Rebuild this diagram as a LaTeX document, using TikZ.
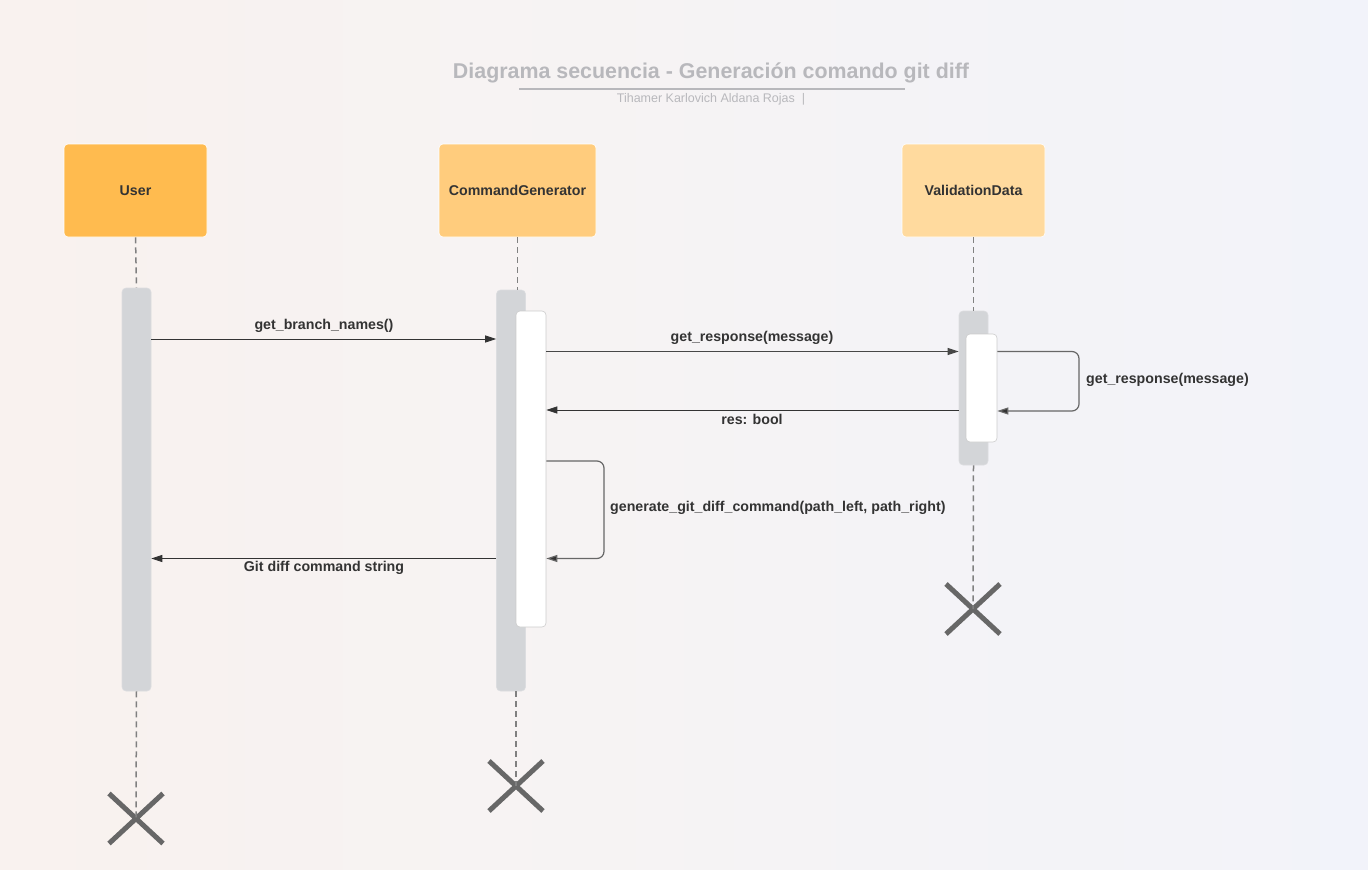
\documentclass[tikz,border=0pt]{standalone}
\usepackage{fontspec}
\setmainfont{Liberation Sans}
\usetikzlibrary{arrows.meta,shapes.misc}
\definecolor{bgl}{HTML}{F8EFEB}
\definecolor{bgr}{HTML}{EFF1F9}
\definecolor{userc}{HTML}{FFBB4F}
\definecolor{cgc}{HTML}{FFCC7D}
\definecolor{vdc}{HTML}{FFDA9E}
\definecolor{barc}{HTML}{D3D5D8}
\definecolor{txt}{HTML}{333333}
\definecolor{titc}{HTML}{B8B8BC}
\definecolor{xgray}{HTML}{676767}
\definecolor{lifec}{HTML}{808080}
\tikzset{
  actor/.style={rounded corners=4pt, draw=white, line width=0.6pt, inner sep=0pt, text=txt, font=\bfseries\fontsize{14.2}{17}\selectfont},
  actbar/.style={rounded corners=4pt, fill=barc, draw=barc!80!white, line width=0.6pt, inner sep=0pt, minimum width=29pt},
  inbar/.style={rounded corners=4pt, fill=white, draw=gray!40, line width=0.6pt, inner sep=0pt, minimum width=30pt},
  life/.style={draw=lifec, line width=1.5pt, dash pattern=on 6pt off 4pt},
  xmark/.style={cross out, draw=xgray, line width=5pt, minimum width=49pt, minimum height=45pt, inner sep=0pt},
  msg/.style={draw=txt, line width=0.8pt, -{Triangle[length=11pt,width=7pt]}},
  msgb/.style={draw=txt!90, line width=1.2pt, -{Triangle[length=11pt,width=7pt]}},
  loopm/.style={draw=xgray, line width=1.2pt, rounded corners=7pt, -{Triangle[length=11pt,width=7pt,fill=txt]}},
  lbl/.style={text=txt, font=\bfseries\fontsize{14.2}{16}\selectfont, inner sep=0pt},
}
\begin{document}
\begin{tikzpicture}[x=1pt,y=-1pt]
\useasboundingbox (0,0) rectangle (1368,870);
\shade[left color=bgl, right color=bgr] (0,0) rectangle (1368,870);
\fill[white, opacity=0.2] (0,0) rectangle (1368,870);
% title
\node[text=titc, font=\bfseries\fontsize{21.4}{25}\selectfont, inner sep=0pt] (title) at (711,73) {Diagrama secuencia - Generación comando git diff};
\coordinate (ula) at (519,89);
\coordinate (ulb) at (905,89);
\draw[titc, line width=1.8pt] (ula) -- (ulb);
\node[text=titc, font=\fontsize{12.5}{14}\selectfont, inner sep=0pt] (sub) at (711,99.5) {Tihamer Karlovich Aldana Rojas \ |};
% actors
\node[actor, fill=userc, minimum width=143pt, minimum height=93pt] (user) at (135.5,190.5) {User};
\node[actor, fill=cgc, minimum width=157pt, minimum height=93pt] (cg) at (517.5,190.5) {CommandGenerator};
\node[actor, fill=vdc, minimum width=143pt, minimum height=93pt] (vd) at (973.5,190.5) {ValidationData};
% activation bars
\node[actbar, minimum height=403pt] (ua) at (136.5,489.5) {};
\node[actbar, minimum height=401pt] (ca) at (511,490.5) {};
\node[inbar, minimum height=316pt] (ca2) at (531,469) {};
\node[actbar, minimum height=154pt] (va) at (973.5,388) {};
\node[inbar, minimum width=31pt, minimum height=108pt] (va2) at (981.5,388) {};
% destruction marks
\node[xmark] (ux) at (136,818.5) {};
\node[xmark] (cx) at (516,786) {};
\node[xmark] (vx) at (973,609) {};
% lifelines
\draw[life] (user.south) -- (ua.north);
\draw[life] (ua.south) -- (ux.center);
\draw[life] (cg.south) -- (ca.north -| cg.south);
\draw[life] (ca.south -| cx.center) -- (cx.center);
\draw[life] (vd.south) -- (va.north);
\draw[life] (va.south) -- (vx.center);
% message rows
\coordinate (y1) at (0,339);
\coordinate (y2) at (0,351.5);
\coordinate (y3) at (0,410);
\coordinate (y4) at (0,461);
\coordinate (y5) at (0,558.5);
\coordinate (l1a) at (1079,351.5);
\coordinate (l1b) at (1079,411);
\coordinate (l2a) at (604,461);
\coordinate (l2b) at (604,558.5);
% messages
\draw[msg] (ua.east |- y1) -- (ca.west |- y1);
\node[lbl] (m1) at (324,326) {get\_branch\_names()};
\draw[msgb] (ca2.east |- y2) -- (va.west |- y2);
\node[lbl] (m2) at (752,338) {get\_response(message)};
\draw[loopm] (va2.east |- l1a) -- (l1a) -- (l1b) -- (va2.east |- l1b);
\node[lbl, anchor=west] (m3) at (1086,380) {get\_response(message)};
\draw[msg] (va.west |- y3) -- (ca2.east |- y3);
\node[lbl] (m4) at (752,419) {res: bool};
\draw[loopm] (ca2.east |- l2a) -- (l2a) -- (l2b) -- (ca2.east |- l2b);
\node[lbl, anchor=west] (m5) at (610,507.5) {generate\_git\_diff\_command(path\_left, path\_right)};
\draw[msg] (ca.west |- y5) -- (ua.east |- y5);
\node[lbl] (m6) at (324,568) {Git diff command string};
\end{tikzpicture}
\end{document}
